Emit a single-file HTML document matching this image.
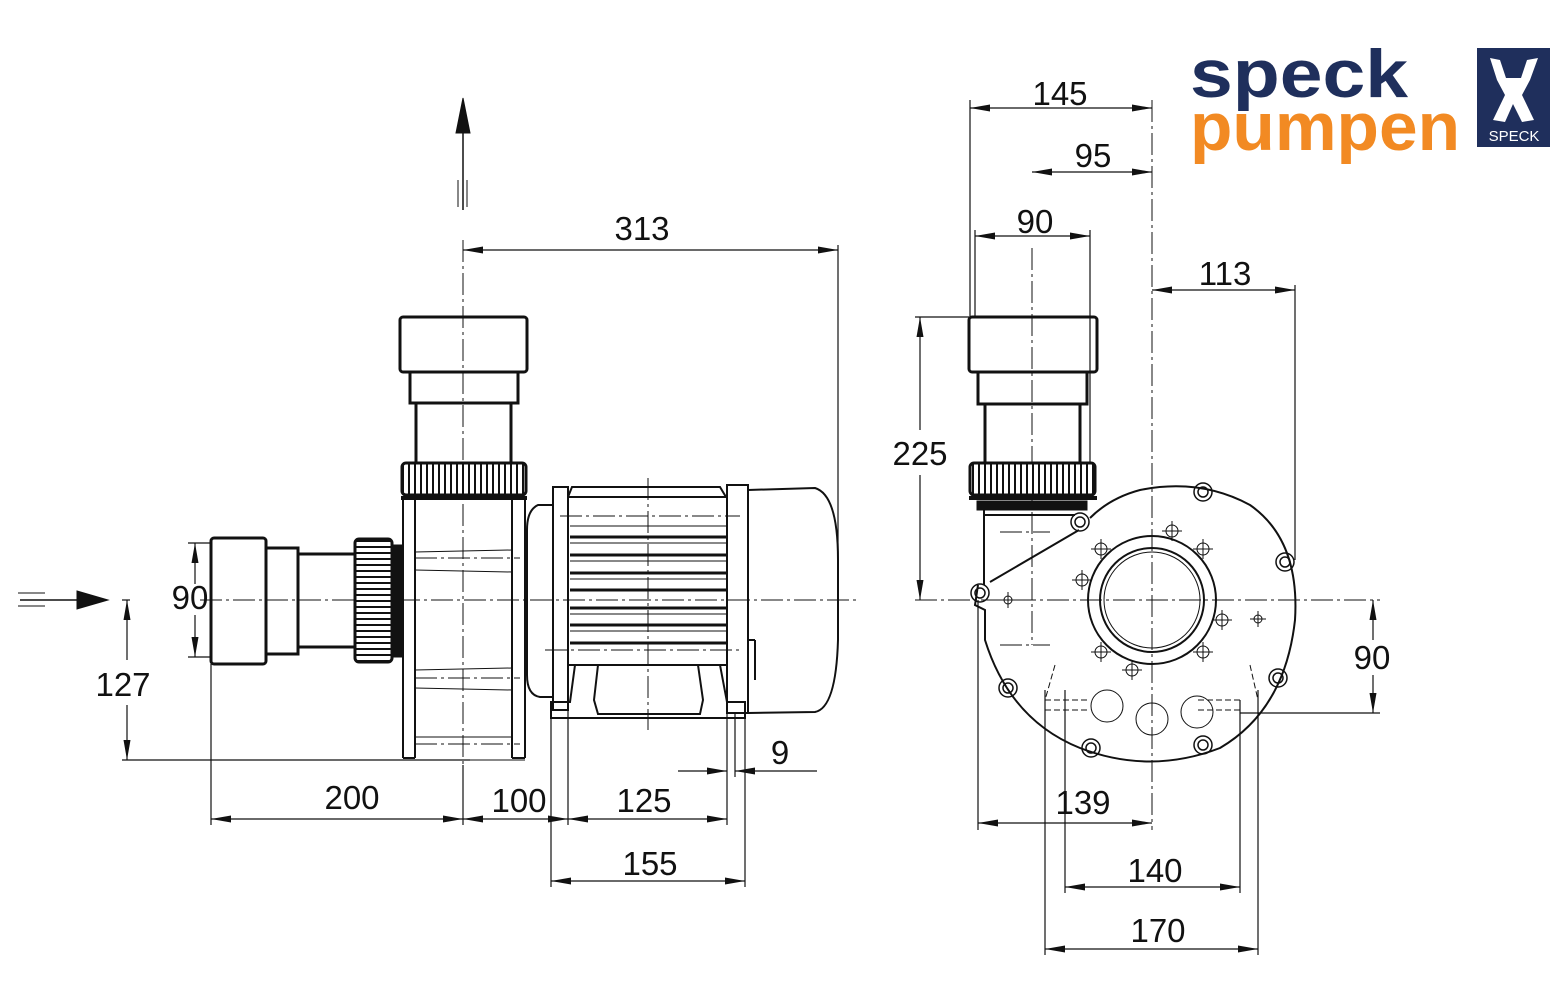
<!DOCTYPE html>
<html><head><meta charset="utf-8"><style>
html,body{margin:0;padding:0;background:#fff;}
svg{display:block}
text{font-family:"Liberation Sans",sans-serif;fill:#111}
</style></head><body>
<svg width="1566" height="1003" viewBox="0 0 1566 1003" xmlns="http://www.w3.org/2000/svg">
<defs>
<marker id="a" viewBox="0 0 10 10" refX="10" refY="5" markerWidth="20" markerHeight="7" markerUnits="userSpaceOnUse" orient="auto-start-reverse" preserveAspectRatio="none"><path d="M0,0 L10,5 L0,10 Z" fill="#111"/></marker>
<pattern id="vr" width="6" height="10" patternUnits="userSpaceOnUse"><rect width="6" height="10" fill="#fff"/><rect x="0" width="2" height="10" fill="#111"/></pattern>
<pattern id="hr" width="10" height="6" patternUnits="userSpaceOnUse"><rect width="10" height="6" fill="#fff"/><rect y="0" width="10" height="2" fill="#111"/></pattern>
</defs>
<g fill="none" stroke="#111">
<g stroke-width="1" stroke-dasharray="22,4,3,4">
<line x1="463" y1="240" x2="463" y2="765"/>
<line x1="200" y1="600" x2="860" y2="600"/>
<line x1="648" y1="478" x2="648" y2="730"/>
<line x1="1032" y1="248" x2="1032" y2="645"/>
<line x1="1152" y1="100" x2="1152" y2="830"/>
<line x1="915" y1="600" x2="1380" y2="600"/>
<line x1="415" y1="558" x2="520" y2="558"/>
<line x1="415" y1="678" x2="520" y2="678"/>
<line x1="415" y1="744" x2="520" y2="744"/>
<line x1="545" y1="650" x2="740" y2="650"/>
<line x1="560" y1="516" x2="740" y2="516"/>
<line x1="1000" y1="532" x2="1050" y2="532"/>
<line x1="1000" y1="645" x2="1050" y2="645"/>
</g>
<line x1="463" y1="130" x2="463" y2="210" stroke-width="1.5"/>
<path d="M456,133 L463,98 L470,133 Z" fill="#111"/>
<line x1="458" y1="180" x2="458" y2="207"/><line x1="467" y1="180" x2="467" y2="207"/>
<line x1="20" y1="600" x2="80" y2="600" stroke-width="1.5"/>
<path d="M77,591 L108,600 L77,609 Z" fill="#111"/>
<line x1="18" y1="593" x2="45" y2="593"/><line x1="18" y1="606" x2="45" y2="606"/>

<g stroke-width="3">
<rect x="400" y="317" width="127" height="55" rx="3"/>
<rect x="410" y="372" width="108" height="31"/>
<line x1="416" y1="403" x2="416" y2="462"/><line x1="511" y1="403" x2="511" y2="462"/>
<rect x="402" y="463" width="124" height="32" rx="4" fill="url(#vr)"/>
<line x1="401" y1="498" x2="527" y2="498" stroke-width="4"/>
</g>
<g stroke-width="2">
<line x1="403" y1="498" x2="403" y2="758"/><line x1="415" y1="498" x2="415" y2="758"/>
<line x1="512" y1="498" x2="512" y2="758"/><line x1="525" y1="498" x2="525" y2="758"/>
<line x1="403" y1="758" x2="415" y2="758"/><line x1="512" y1="758" x2="525" y2="758"/>
<line x1="425" y1="760" x2="525" y2="760" stroke-width="1"/>
</g>
<g stroke-width="1">
<line x1="415" y1="552" x2="512" y2="550"/><line x1="415" y1="570" x2="512" y2="572"/>
<line x1="415" y1="670" x2="512" y2="668"/><line x1="415" y1="688" x2="512" y2="690"/>
<line x1="415" y1="737" x2="512" y2="737"/>
</g>
<g stroke-width="3">
<rect x="211" y="538" width="55" height="126" rx="3"/>
<rect x="266" y="548" width="32" height="106"/>
<line x1="298" y1="554" x2="355" y2="554"/><line x1="298" y1="647" x2="355" y2="647"/>
<rect x="355" y="539" width="37" height="123" rx="4" fill="url(#hr)"/>
<rect x="393" y="546" width="8" height="110" fill="#111"/>
</g>
<g stroke-width="2">
<path d="M553,505 L538,505 Q527,510 527,530 L527,675 Q527,695 540,697 L553,697"/>
<rect x="553" y="487" width="15" height="223"/>
<path d="M568,497 L572,487 L720,487 L726,497"/>
<line x1="568" y1="665" x2="727" y2="665"/>
<line x1="568" y1="497" x2="727" y2="497"/>
<rect x="727" y="485" width="21" height="228"/>
<path d="M748,490 L815,488 Q838,495 838,560 L838,640 Q836,708 815,712 L748,713"/>
<path d="M551,718 L551,702 L570,702 L575,665 L598,665 L594,700 L598,714 L700,714 L703,700 L698,665 L720,665 L727,702 L745,702 L745,718 Z"/>
<line x1="748" y1="640" x2="755" y2="640"/><line x1="755" y1="640" x2="755" y2="680"/>
</g>
<g stroke-width="3">
<line x1="570" y1="537" x2="727" y2="537"/><line x1="570" y1="555" x2="727" y2="555"/>
<line x1="570" y1="573" x2="727" y2="573"/><line x1="570" y1="590" x2="727" y2="590"/>
<line x1="570" y1="608" x2="727" y2="608"/><line x1="570" y1="625" x2="727" y2="625"/>
<line x1="570" y1="643" x2="727" y2="643"/>
</g>
<g stroke-width="1"><line x1="570" y1="543" x2="727" y2="543"/><line x1="570" y1="561" x2="727" y2="561"/><line x1="570" y1="579" x2="727" y2="579"/><line x1="570" y1="614" x2="727" y2="614"/><line x1="570" y1="631" x2="727" y2="631"/><line x1="570" y1="526" x2="727" y2="526"/></g>

<g stroke-width="1.2">
<line x1="838" y1="245" x2="838" y2="560"/>
<line x1="463" y1="250" x2="838" y2="250" marker-start="url(#a)" marker-end="url(#a)"/>
<line x1="188" y1="543" x2="211" y2="543"/><line x1="188" y1="657" x2="211" y2="657"/>
<line x1="195" y1="584" x2="195" y2="543" marker-end="url(#a)"/>
<line x1="195" y1="615" x2="195" y2="657" marker-end="url(#a)"/>
<line x1="122" y1="600" x2="130" y2="600"/>
<line x1="127" y1="660" x2="127" y2="600" marker-end="url(#a)"/>
<line x1="127" y1="705" x2="127" y2="760" marker-end="url(#a)"/>
<line x1="122" y1="760" x2="470" y2="760"/>
<line x1="211" y1="664" x2="211" y2="825"/>
<line x1="463" y1="765" x2="463" y2="825"/>
<line x1="551" y1="718" x2="551" y2="887"/>
<line x1="568" y1="710" x2="568" y2="825"/>
<line x1="727" y1="713" x2="727" y2="825"/>
<line x1="745" y1="718" x2="745" y2="887"/>
<line x1="735" y1="713" x2="735" y2="777"/>
<line x1="211" y1="819" x2="463" y2="819" marker-start="url(#a)" marker-end="url(#a)"/>
<line x1="463" y1="819" x2="568" y2="819" marker-start="url(#a)" marker-end="url(#a)"/>
<line x1="568" y1="819" x2="727" y2="819" marker-start="url(#a)" marker-end="url(#a)"/>
<line x1="551" y1="881" x2="745" y2="881" marker-start="url(#a)" marker-end="url(#a)"/>
<line x1="678" y1="771" x2="727" y2="771" marker-end="url(#a)"/>
<line x1="817" y1="771" x2="735" y2="771" marker-end="url(#a)"/>
</g>

<g stroke-width="3">
<rect x="969" y="317" width="128" height="55" rx="3"/>
<rect x="978" y="372" width="109" height="32"/>
<line x1="985" y1="404" x2="985" y2="462"/><line x1="1080" y1="404" x2="1080" y2="462"/>
<rect x="970" y="463" width="125" height="32" rx="4" fill="url(#vr)"/>
<line x1="969" y1="498" x2="1097" y2="498" stroke-width="4"/>
<rect x="978" y="502" width="108" height="7" fill="#111"/>
</g>
<g stroke-width="2">
<path d="M984,510 L984,585 M984,515 L1075,515 M1079,530 L990,582 M978,585 L975,605 L985,610 L985,640 Q1010,720 1080,748 Q1150,775 1220,748 Q1285,710 1295,620 Q1300,540 1250,505 Q1200,478 1140,490 Q1110,498 1090,518"/>
<circle cx="1152" cy="600" r="64"/>
<circle cx="1152" cy="600" r="52"/>
<circle cx="1152" cy="600" r="48" stroke-width="1"/>
</g>
<g stroke-width="1.5">
<circle cx="1203" cy="492" r="9"/><circle cx="1203" cy="492" r="5"/>
<circle cx="1080" cy="522" r="9"/><circle cx="1080" cy="522" r="5"/>
<circle cx="1285" cy="562" r="9"/><circle cx="1285" cy="562" r="5"/>
<circle cx="980" cy="593" r="9"/><circle cx="980" cy="593" r="5"/>
<circle cx="1008" cy="688" r="9"/><circle cx="1008" cy="688" r="5"/>
<circle cx="1278" cy="678" r="9"/><circle cx="1278" cy="678" r="5"/>
<circle cx="1091" cy="748" r="9"/><circle cx="1091" cy="748" r="5"/>
<circle cx="1203" cy="745" r="9"/><circle cx="1203" cy="745" r="5"/>
</g>
<g stroke-width="1">
<circle cx="1172" cy="531" r="6"/><path d="M1162,531h20M1172,521v20"/>
<circle cx="1101" cy="549" r="6"/><path d="M1091,549h20M1101,539v20"/>
<circle cx="1203" cy="549" r="6"/><path d="M1193,549h20M1203,539v20"/>
<circle cx="1082" cy="580" r="6"/><path d="M1072,580h20M1082,570v20"/>
<circle cx="1222" cy="620" r="6"/><path d="M1212,620h20M1222,610v20"/>
<circle cx="1258" cy="619" r="4"/><path d="M1250,619h16M1258,611v16"/>
<circle cx="1101" cy="652" r="6"/><path d="M1091,652h20M1101,642v20"/>
<circle cx="1203" cy="652" r="6"/><path d="M1193,652h20M1203,642v20"/>
<circle cx="1132" cy="670" r="6"/><path d="M1122,670h20M1132,660v20"/>
<circle cx="1008" cy="600" r="4"/><path d="M1000,600h16M1008,592v16"/>
<circle cx="1107" cy="706" r="16"/><circle cx="1152" cy="719" r="16"/><circle cx="1197" cy="712" r="16"/>
<path d="M1045,700h45M1045,710h45M1240,700h-45M1240,710h-45" stroke-dasharray="6,3"/>
<path d="M1055,665 L1045,700 M1250,665 L1258,700" stroke-dasharray="6,3"/>
</g>
<g stroke-width="1.2">
<line x1="970" y1="100" x2="970" y2="317"/>
<line x1="970" y1="108" x2="1152" y2="108" marker-start="url(#a)" marker-end="url(#a)"/>
<line x1="1032" y1="172" x2="1152" y2="172" marker-start="url(#a)" marker-end="url(#a)"/>
<line x1="975" y1="230" x2="975" y2="317"/><line x1="1090" y1="230" x2="1090" y2="462"/>
<line x1="975" y1="236" x2="1090" y2="236" marker-start="url(#a)" marker-end="url(#a)"/>
<line x1="1295" y1="285" x2="1295" y2="560"/>
<line x1="1152" y1="290" x2="1295" y2="290" marker-start="url(#a)" marker-end="url(#a)"/>
<line x1="915" y1="317" x2="969" y2="317"/>
<line x1="920" y1="430" x2="920" y2="317" marker-end="url(#a)"/>
<line x1="920" y1="475" x2="920" y2="600" marker-end="url(#a)"/>
<line x1="1240" y1="713" x2="1380" y2="713"/>
<line x1="1373" y1="640" x2="1373" y2="600" marker-end="url(#a)"/>
<line x1="1373" y1="675" x2="1373" y2="713" marker-end="url(#a)"/>
<line x1="978" y1="600" x2="978" y2="830"/>
<line x1="978" y1="823" x2="1152" y2="823" marker-start="url(#a)" marker-end="url(#a)"/>
<line x1="1065" y1="690" x2="1065" y2="893"/><line x1="1240" y1="700" x2="1240" y2="893"/>
<line x1="1065" y1="887" x2="1240" y2="887" marker-start="url(#a)" marker-end="url(#a)"/>
<line x1="1045" y1="690" x2="1045" y2="955"/><line x1="1258" y1="690" x2="1258" y2="955"/>
<line x1="1045" y1="949" x2="1258" y2="949" marker-start="url(#a)" marker-end="url(#a)"/>
</g>
</g>
<g font-size="33" text-anchor="middle">
<text x="642" y="240">313</text>
<text x="190" y="609">90</text>
<text x="123" y="696">127</text>
<text x="352" y="809">200</text>
<text x="519" y="812">100</text>
<text x="644" y="812">125</text>
<text x="650" y="875">155</text>
<text x="780" y="764">9</text>
<text x="1060" y="105">145</text>
<text x="1093" y="167">95</text>
<text x="1035" y="233">90</text>
<text x="1225" y="285">113</text>
<text x="920" y="465">225</text>
<text x="1372" y="669">90</text>
<text x="1083" y="814">139</text>
<text x="1155" y="882">140</text>
<text x="1158" y="942">170</text>
</g>
<text x="1190" y="97" font-size="68" font-weight="bold" style="fill:#1f2f5c" textLength="218" lengthAdjust="spacingAndGlyphs">speck</text>
<text x="1190" y="150" font-size="68" font-weight="bold" style="fill:#f28a23" textLength="270" lengthAdjust="spacingAndGlyphs">pumpen</text>
<rect x="1477" y="48" width="73" height="99" fill="#1f2f5c"/>
<path d="M1490,58 L1500,60 L1506,78 L1521,78 L1527,60 L1538,58 L1530,80 L1522,95 L1534,120 L1522,122 L1513,104 L1505,122 L1493,120 L1505,95 L1497,80 Z" fill="#fff"/>
<text x="1514" y="141" font-size="15" text-anchor="middle" style="fill:#fff">SPECK</text>
</svg>
</body></html>
